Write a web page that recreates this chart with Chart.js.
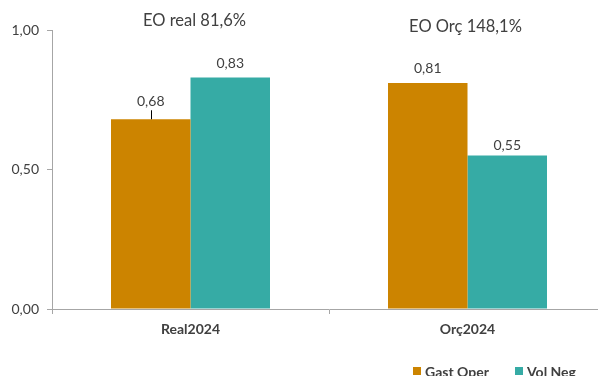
<!DOCTYPE html>
<html>
<head>
<meta charset="utf-8">
<script src="https://cdn.jsdelivr.net/npm/chart.js@4.4.1/dist/chart.umd.min.js"></script>
<style>
  html, body { margin: 0; padding: 0; background: #fff; overflow: hidden; }
  #wrap { width: 598px; height: 376px; overflow: hidden; position: relative; }
  #wrap canvas { position: absolute; left: 0; top: 0; }
</style>
</head>
<body>
<div id="wrap"><canvas id="c" width="620" height="376"></canvas></div>
<script>
// Categories and series
const categories = ['Real2024', 'Orç2024'];
const gastOper = [0.68, 0.81];
const volNeg = [0.83, 0.55];
const groupTitles = ['EO real 81,6%', 'EO Orç 148,1%'];
const yTicks = [0, 0.5, 1];

// Distance (px) from bar top to the centre of each value label
const labelGap = [[18, 15], [14, 10]];

const TEXT = '#404040';
const AXIS = '#a6a6a6';
const FONT = 'Lato, "Open Sans", sans-serif';

function fmt(v) { return v.toFixed(2).replace('.', ','); }

const overlay = {
  id: 'overlay',
  afterDatasetsDraw(chart) {
    const ctx = chart.ctx;
    const x = chart.scales.x;
    ctx.save();
    ctx.fillStyle = TEXT;
    ctx.textAlign = 'center';
    ctx.textBaseline = 'middle';

    // group headings
    ctx.font = '16.5px ' + FONT;
    groupTitles.forEach((t, i) => {
      const cx = x.getPixelForValue(i);
      ctx.fillText(t, cx + (i === 0 ? 4 : -2), i === 0 ? 21 : 27);
    });

    // value labels
    ctx.font = '14px ' + FONT;
    chart.data.datasets.forEach((ds, di) => {
      chart.getDatasetMeta(di).data.forEach((bar, i) => {
        const gap = labelGap[di][i];
        const ly = bar.y - gap;
        ctx.fillText(fmt(ds.data[i]), bar.x, ly);
        if (gap > 16) {
          ctx.strokeStyle = '#000';
          ctx.lineWidth = 1;
          ctx.beginPath();
          ctx.moveTo(Math.round(bar.x) + 0.5, ly + 9);
          ctx.lineTo(Math.round(bar.x) + 0.5, bar.y);
          ctx.stroke();
        }
      });
    });

    // legend
    const items = [{ x: 413 }, { x: 515 }];
    ctx.font = 'bold 14px ' + FONT;
    ctx.textAlign = 'left';
    ctx.textBaseline = 'alphabetic';
    chart.data.datasets.forEach((ds, di) => {
      const lx = items[di].x;
      ctx.fillStyle = ds.backgroundColor;
      ctx.fillRect(lx, 367, 8, 8);
      ctx.fillStyle = TEXT;
      ctx.fillText(ds.label, lx + 12, 377);
    });
    ctx.restore();
  }
};

new Chart(document.getElementById('c'), {
  type: 'bar',
  data: {
    labels: categories,
    datasets: [
      { label: 'Gast Oper', data: gastOper, backgroundColor: '#cc8400' },
      { label: 'Vol Neg', data: volNeg, backgroundColor: '#36aba5' }
    ]
  },
  options: {
    responsive: false,
    animation: false,
    devicePixelRatio: 1,
    layout: { padding: { top: 30, right: 14, bottom: 27, left: 0 } },
    datasets: { bar: { categoryPercentage: 0.574, barPercentage: 1 } },
    plugins: { legend: { display: false }, tooltip: { enabled: false } },
    scales: {
      x: {
        offset: true,
        grid: { display: true, offset: true, drawOnChartArea: false, tickLength: 5, color: AXIS },
        border: { color: AXIS },
        ticks: { color: TEXT, font: { family: FONT, size: 14, weight: 'bold' }, padding: 7 },
        afterFit(s) { s.height = 40; }
      },
      y: {
        min: 0, max: 1,
        afterBuildTicks(s) { s.ticks = yTicks.map(v => ({ value: v })); },
        grid: { display: true, drawOnChartArea: false, tickLength: 5, color: AXIS },
        border: { color: AXIS },
        ticks: { color: TEXT, font: { family: FONT, size: 14 }, padding: 8, callback: v => fmt(v) },
        afterFit(s) { s.width = 52; }
      }
    }
  },
  plugins: [overlay]
});
</script>
</body>
</html>
